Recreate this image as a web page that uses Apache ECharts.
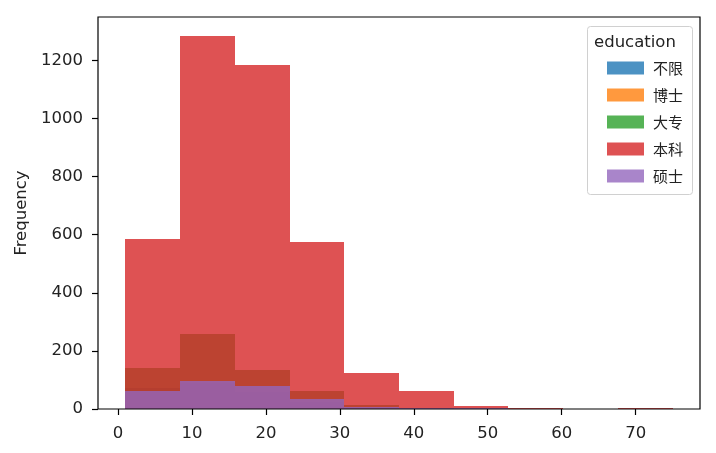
<!DOCTYPE html>
<html>
<head>
<meta charset="utf-8">
<script src="https://cdn.jsdelivr.net/npm/echarts@6/dist/echarts.min.js"></script>
<style>
html,body{margin:0;padding:0;background:#fff;}
#chart{width:716px;height:453px;}
</style>
</head>
<body>
<div id="chart"></div>
<script>
// Histogram bin edges (shared by all series)
const binEdges = [1, 8.4, 15.8, 23.2, 30.6, 38, 45.4, 52.8, 60.2, 67.6, 75];
// Series names (education levels)
const seriesNames = ['不限', '博士', '大专', '本科', '硕士'];
// Counts per bin for each series
const countsBuxian = [72, 90, 60, 25, 5, 2, 0, 0, 0, 0];
const countsBoshi  = [0, 1, 1, 1, 0, 0, 0, 0, 0, 0];
const countsDazhuan = [141, 259, 135, 61, 13, 2, 0, 0, 0, 0];
const countsBenke  = [586, 1285, 1185, 575, 123, 61, 11, 5, 0, 5];
const countsShuoshi = [61, 97, 80, 35, 6, 3, 4, 0, 0, 0];
// Tick labels
const xTicks = [0, 10, 20, 30, 40, 50, 60, 70];
const yTicks = [0, 200, 400, 600, 800, 1000, 1200];
const legendTitle = 'education';
const yAxisTitle = 'Frequency';

const allCounts = [countsBuxian, countsBoshi, countsDazhuan, countsBenke, countsShuoshi];
const colors = ['rgba(31,119,180,0.8)', 'rgba(255,127,14,0.8)', 'rgba(44,160,44,0.8)', 'rgba(214,39,40,0.8)', 'rgba(148,103,189,0.8)'];

const span = binEdges[binEdges.length - 1] - binEdges[0];
const xMin = binEdges[0] - span * 0.05;
const xMax = binEdges[binEdges.length - 1] + span * 0.05;
const yMaxData = Math.max(...allCounts.flat());
const yMax = yMaxData * 1.05;

const FONT = 'DejaVu Sans';
const FS = 16.5;

function renderBar(params, api) {
  const x0 = api.value(0), x1 = api.value(1), c = api.value(2);
  if (!c) return null;
  const pTop = api.coord([x0, c]);
  const pBot = api.coord([x1, 0]);
  const l = Math.round(pTop[0]), r = Math.round(pBot[0]);
  const t = Math.round(pTop[1]), b = Math.round(pBot[1]);
  return {
    type: 'rect',
    shape: { x: l, y: t, width: r - l, height: b - t },
    style: { fill: api.visual('color') }
  };
}

const series = seriesNames.map((name, si) => ({
  name: name,
  type: 'custom',
  renderItem: renderBar,
  itemStyle: { color: colors[si] },
  encode: { x: [0, 1], y: 2 },
  data: allCounts[si].map((c, i) => [binEdges[i], binEdges[i + 1], c]),
  z: 2 + si,
  silent: true
}));

const chart = echarts.init(document.getElementById('chart'), null, { renderer: 'canvas' });
chart.setOption({
  animation: false,
  backgroundColor: '#fff',
  grid: { left: 98, right: 16, top: 17, bottom: 44, show: true, borderColor: '#000', borderWidth: 1.2, backgroundColor: 'transparent', z: 10 },
  xAxis: {
    type: 'value', min: xMin, max: xMax,
    axisLine: { show: false, onZero: false },
    splitLine: { show: false },
    axisTick: { show: true, length: 6, lineStyle: { color: '#000', width: 1.2 }, customValues: xTicks },
    axisLabel: { customValues: xTicks, color: '#222', fontFamily: FONT, fontSize: FS, margin: 16, formatter: v => String(v) }
  },
  yAxis: {
    type: 'value', min: 0, max: yMax,
    name: yAxisTitle, nameLocation: 'middle', nameGap: 67,
    nameTextStyle: { color: '#222', fontFamily: FONT, fontSize: FS },
    axisLine: { show: false, onZero: false },
    splitLine: { show: false },
    axisTick: { show: true, length: 6, lineStyle: { color: '#000', width: 1.2 }, customValues: yTicks },
    axisLabel: { customValues: yTicks, color: '#222', fontFamily: FONT, fontSize: FS, margin: 15, formatter: v => String(v) }
  },
  legend: {
    orient: 'vertical', left: 602, top: 53,
    itemWidth: 37, itemHeight: 13, itemGap: 7,
    icon: 'rect',
    data: seriesNames,
    selectedMode: false,
    z: 30,
    textStyle: { color: '#222', fontFamily: 'Noto Sans CJK SC', fontSize: 15, lineHeight: 20, padding: [0, 0, 0, 4] }
  },
  graphic: [
    { type: 'rect', left: 587, top: 26, shape: { width: 105, height: 168, r: 3 }, style: { fill: 'rgba(255,255,255,0.8)', stroke: '#d0d0d0', lineWidth: 1 }, z: 1 },
    { type: 'text', left: 594, top: 34, style: { text: legendTitle, fill: '#222', font: FS + 'px "' + FONT + '"' }, z: 21 }
  ],
  series: series
});
</script>
</body>
</html>
